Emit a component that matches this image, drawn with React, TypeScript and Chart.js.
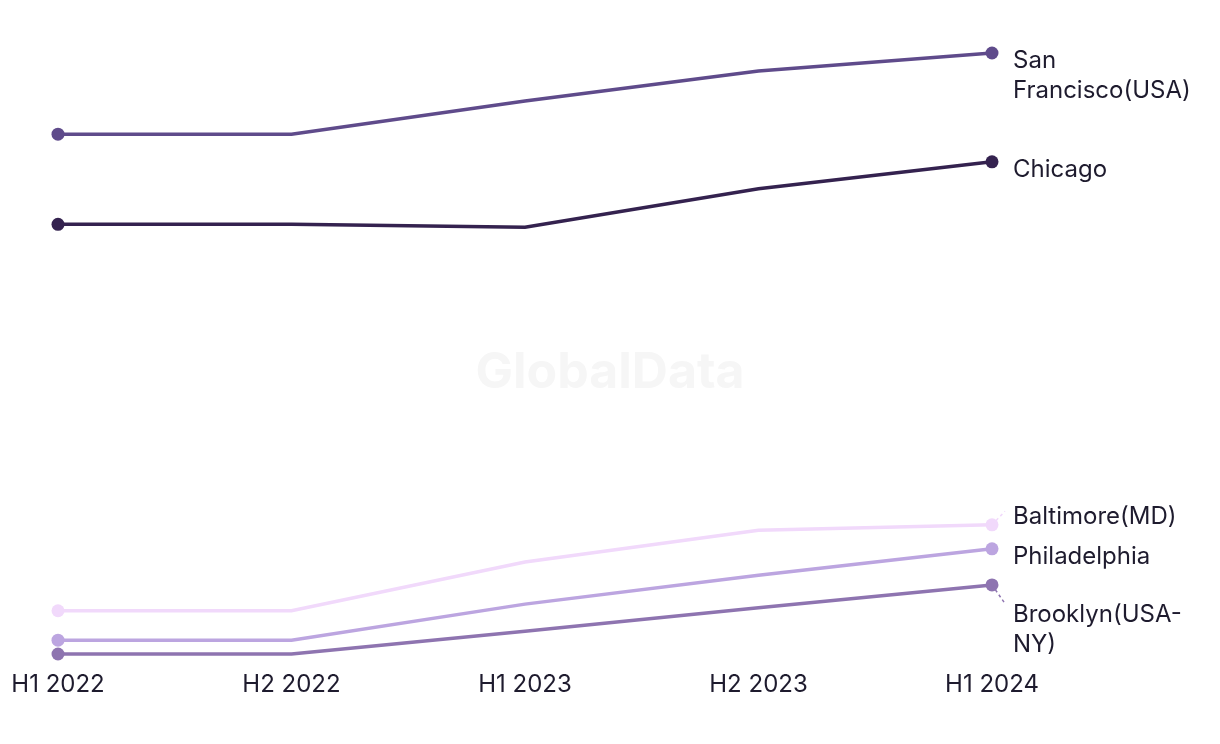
import React, { useEffect, useRef } from "react";
import { Chart, registerables } from "chart.js";

Chart.register(...registerables);

const periods = ["H1 2022", "H2 2022", "H1 2023", "H2 2023", "H1 2024"];
const sanFrancisco = [86.5, 86.5, 92.0, 97.0, 100.0];
const chicago = [71.5, 71.5, 71.0, 77.4, 81.9];
const baltimore = [7.2, 7.2, 15.3, 20.6, 21.5];
const philadelphia = [2.3, 2.3, 8.3, 13.1, 17.5];
const brooklyn = [0.0, 0.0, 3.8, 7.7, 11.5];

const seriesNames = ["San Francisco(USA)", "Chicago", "Baltimore(MD)", "Philadelphia", "Brooklyn(USA-NY)"];
const labelLines = [["San", "Francisco(USA)"], ["Chicago"], ["Baltimore(MD)"], ["Philadelphia"], ["Brooklyn(USA-", "NY)"]];
const seriesValues = [sanFrancisco, chicago, baltimore, philadelphia, brooklyn];
const seriesColors = ["#5f4b8b", "#34224f", "#f1d9fb", "#bca5e0", "#8e74b0"];
const labelNudges = [0, 0, -16, 0, 22];

const FONT = "Inter, 'Noto Sans', sans-serif";
const TEXT = "#1e1b2e";

const endLabels = {
  id: "endLabels",
  afterDatasetsDraw(chart: any) {
    const ctx = chart.ctx;
    ctx.save();
    chart.data.datasets.forEach((ds: any, i: number) => {
      const meta = chart.getDatasetMeta(i);
      const pt = meta.data[meta.data.length - 1];
      if (!pt) return;
      const px = pt.x;
      const py = pt.y;
      const nudge = labelNudges[i];
      if (nudge !== 0) {
        ctx.strokeStyle = ds.borderColor;
        ctx.lineWidth = 1.5;
        ctx.setLineDash([3, 3]);
        ctx.beginPath();
        ctx.moveTo(px, py);
        ctx.lineTo(px + 13, py + nudge * 0.85);
        ctx.stroke();
        ctx.setLineDash([]);
      }
      ctx.fillStyle = TEXT;
      ctx.font = `24px ${FONT}`;
      ctx.textAlign = "left";
      ctx.textBaseline = "alphabetic";
      labelLines[i].forEach((line, j) => {
        ctx.fillText(line, px + 21, py + 15 + nudge + j * 30);
      });
    });
    ctx.restore();
  },
};

const watermark = {
  id: "watermark",
  beforeDatasetsDraw(chart: any) {
    const ctx = chart.ctx;
    ctx.save();
    ctx.fillStyle = "#f6f6f6";
    ctx.font = `bold 50px ${FONT}`;
    ctx.textAlign = "center";
    ctx.textBaseline = "middle";
    ctx.fillText("GlobalData", 610, 373);
    ctx.restore();
  },
};

export default function App() {
  const ref = useRef<HTMLCanvasElement>(null);
  useEffect(() => {
    if (!ref.current) return;
    const chart = new Chart(ref.current, {
      type: "line",
      data: {
        labels: periods,
        datasets: seriesValues.map((vals, i) => ({
          label: seriesNames[i],
          data: vals,
          borderColor: seriesColors[i],
          backgroundColor: seriesColors[i],
          borderWidth: 3.5,
          tension: 0,
          clip: false,
          pointRadius: (c: any) => (c.dataIndex === 0 || c.dataIndex === vals.length - 1 ? 6.5 : 0),
          pointHoverRadius: 0,
          pointBorderWidth: 0,
        })),
      },
      options: {
        animation: false,
        responsive: false,
        maintainAspectRatio: false,
        layout: { padding: { left: 58, right: 228, top: 53, bottom: 20 } },
        plugins: { legend: { display: false }, tooltip: { enabled: false } },
        scales: {
          x: {
            offset: false,
            grid: { display: false, drawTicks: false },
            border: { display: false },
            ticks: { color: TEXT, font: { family: FONT, size: 24 }, padding: 16, maxRotation: 0 },
            afterFit: (axis: any) => {
              axis.height = 70;
              axis.paddingLeft = 0;
              axis.paddingRight = 0;
            },
          },
          y: { display: false, min: 0, max: 100 },
        },
      },
      plugins: [watermark, endLabels],
    });
    return () => chart.destroy();
  }, []);
  return (
    <div style={{ position: "fixed", left: 0, top: 0, width: 1220, height: 744, background: "#fff" }}>
      <canvas ref={ref} width={1220} height={744} style={{ width: 1220, height: 744 }} />
    </div>
  );
}
